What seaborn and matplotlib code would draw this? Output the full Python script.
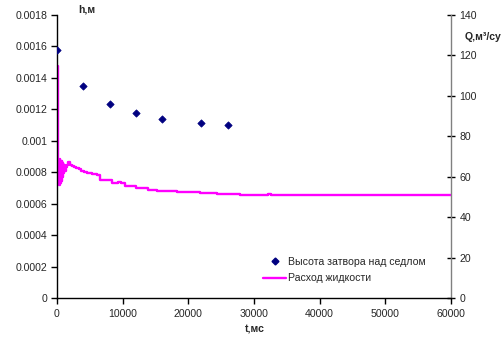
import matplotlib
matplotlib.use("Agg")
import matplotlib.pyplot as plt
import seaborn as sns
import pandas as pd
from matplotlib.lines import Line2D

# --- data ---
t_h = [0, 4000, 8000, 12000, 16000, 22000, 26000]
h_vals = [0.00158, 0.001348, 0.001234, 0.001179, 0.00114, 0.001111, 0.0011]

t_q = [0, 120, 170, 220, 280, 340, 410, 480, 550, 620, 700, 780, 860, 950,
       1050, 1150, 1300, 1500, 1750, 2000, 2300, 2550, 2900, 3300, 3700, 4070,
       4500, 4830, 5400, 6090, 6550, 8300, 9300, 9700, 10350, 12100, 13900,
       15200, 18200, 21800, 24300, 27900, 30500, 32200, 32600, 36000, 45000,
       52000, 60000]
q_vals = [115, 115, 78, 57, 68, 56, 69, 57, 67, 58, 68, 60, 67, 62,
          66, 63, 65, 66, 67.4, 66, 65.5, 65, 64.3, 64, 63, 62.5,
          62, 61.7, 61.2, 60.8, 58.4, 56.7, 57.2, 56.7, 55.4, 54.4, 53.4,
          52.9, 52.3, 51.9, 51.6, 51.2, 51.1, 51.4, 51.0, 51.0, 50.95,
          50.95, 50.95]

x_ticks = [0, 10000, 20000, 30000, 40000, 50000, 60000]
x_ticklabels = ["0", "10000", "20000", "30000", "40000", "50000", "60000"]
h_ticks = [0, 0.0002, 0.0004, 0.0006, 0.0008, 0.001, 0.0012, 0.0014, 0.0016, 0.0018]
h_ticklabels = ["0", "0.0002", "0.0004", "0.0006", "0.0008", "0.001", "0.0012",
                "0.0014", "0.0016", "0.0018"]
q_ticks = [0, 20, 40, 60, 80, 100, 120, 140]
q_ticklabels = ["0", "20", "40", "60", "80", "100", "120", "140"]

label_h = "Высота затвора над седлом"
label_q = "Расход жидкости"

sns.set_style("white")
plt.rcParams['font.family'] = ['Liberation Sans', 'DejaVu Sans']

df_h = pd.DataFrame({"t": t_h, "h": h_vals})
df_q = pd.DataFrame({"t": t_q, "q": q_vals})

fig = plt.figure(figsize=(5.03, 3.38), dpi=100)
ax = fig.add_axes([57/503, 1 - 298/338, (451 - 57)/503, (298 - 15)/338])
ax2 = ax.twinx()

sns.lineplot(data=df_q, x="t", y="q", ax=ax2, color="#FF00FF", linewidth=1.7,
             drawstyle="steps-post", estimator=None, sort=False)
sns.scatterplot(data=df_h, x="t", y="h", ax=ax, color="#000080", marker="D",
                s=14, edgecolor="#000080", linewidth=0.5, zorder=5)
ax.set_zorder(ax2.get_zorder() + 1)
ax.patch.set_visible(False)

ax.set_xlim(0, 60000)
ax.set_ylim(0, 0.0018)
ax2.set_ylim(0, 140)
ax.set_xticks(x_ticks)
ax.set_xticklabels(x_ticklabels)
ax.set_yticks(h_ticks)
ax.set_yticklabels(h_ticklabels)
ax2.set_yticks(q_ticks)
ax2.set_yticklabels(q_ticklabels)

ax.set_xlabel("")
ax.set_ylabel("")
ax2.set_xlabel("")
ax2.set_ylabel("")

for a in (ax, ax2):
    a.spines['top'].set_visible(False)
ax.spines['right'].set_visible(False)
ax2.spines['left'].set_visible(False)
ax2.spines['bottom'].set_visible(False)
ax.spines['left'].set_color('black')
ax.spines['bottom'].set_color('black')
ax.spines['left'].set_linewidth(1.0)
ax.spines['bottom'].set_linewidth(1.0)
ax2.spines['right'].set_color('#808080')
ax2.spines['right'].set_linewidth(1.0)

ax.tick_params(axis='both', which='major', direction='out', length=4, width=1,
               color='black', labelsize=7.6, pad=3, left=True, bottom=True)
ax.tick_params(axis='x', pad=4)
ax2.tick_params(axis='y', direction='inout', length=6, width=1, color='black',
                labelsize=7.6, pad=3, right=True)

fig.text(78/503, 1 - 10/338, "h,м", fontsize=7.6, fontweight='bold', va='center', ha='left')
fig.text(465/503, 1 - 37/338, "Q,м³/су", fontsize=7.6, fontweight='bold', va='center', ha='left')
fig.text(255/503, 1 - 330/338, "t,мс", fontsize=7.6, fontweight='bold', va='center', ha='center')

handles = [Line2D([], [], linestyle='none', marker='D', markersize=3.5,
                  color='#000080'),
           Line2D([], [], color='#FF00FF', linewidth=1.7)]
fig.legend(handles, [label_h, label_q], loc='upper left',
           bbox_to_anchor=(263/503, 1 - 257/338), frameon=False, fontsize=7.6,
           handlelength=2.2, handletextpad=0.15, labelspacing=0.6, borderpad=0,
           borderaxespad=0)

fig.savefig("out.png", dpi=100, facecolor='white')
